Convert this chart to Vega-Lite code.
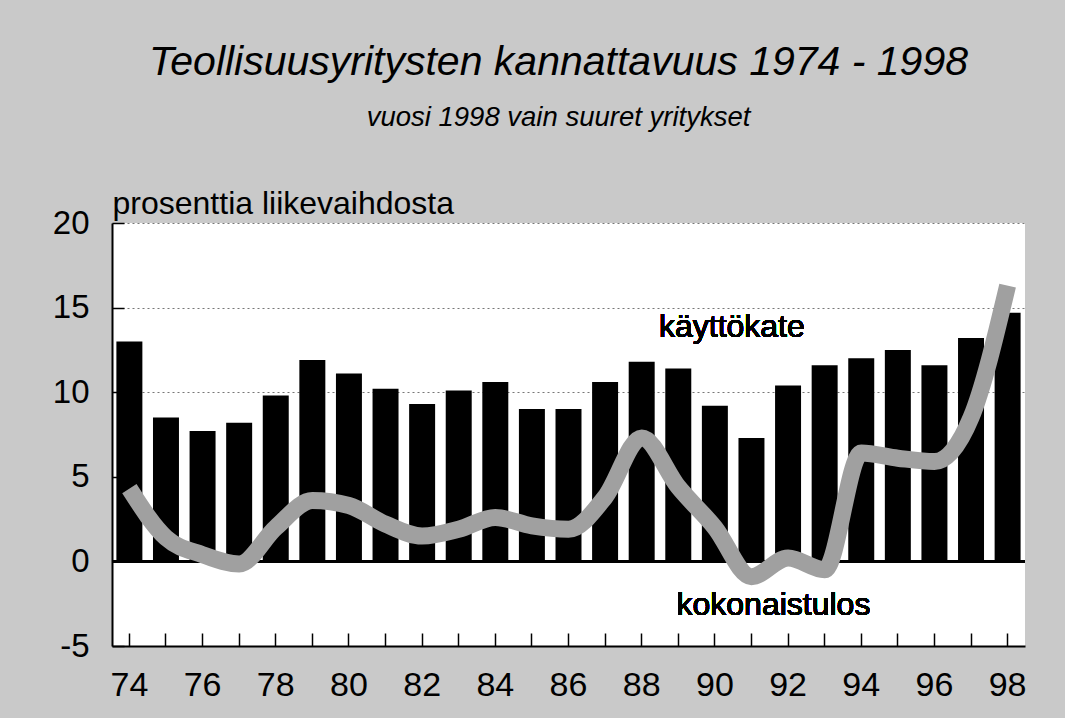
{
  "$schema": "https://vega.github.io/schema/vega-lite/v6.json",
  "width": 913,
  "height": 423,
  "autosize": "none",
  "padding": {"left": 112, "top": 223, "right": 40, "bottom": 72},
  "background": "#c9c9c9",
  "title": {
    "text": "Teollisuusyritysten kannattavuus 1974 - 1998",
    "subtitle": "vuosi 1998 vain suuret yritykset",
    "font": "Liberation Sans",
    "fontStyle": "italic",
    "fontWeight": "normal",
    "fontSize": 41,
    "color": "black",
    "subtitleFont": "Liberation Sans",
    "subtitleFontStyle": "italic",
    "subtitleFontSize": 27.5,
    "subtitleColor": "black",
    "subtitlePadding": 20,
    "anchor": "middle",
    "frame": "group",
    "dx": -10,
    "offset": 55
  },
  "data": {
    "values": [
      {"year": 74, "kate": 13.0, "tulos": 4.3},
      {"year": 75, "kate": 8.5, "tulos": 1.4},
      {"year": 76, "kate": 7.7, "tulos": 0.4},
      {"year": 77, "kate": 8.2, "tulos": -0.15},
      {"year": 78, "kate": 9.8, "tulos": 2.0},
      {"year": 79, "kate": 11.9, "tulos": 3.6},
      {"year": 80, "kate": 11.1, "tulos": 3.3},
      {"year": 81, "kate": 10.2, "tulos": 2.2},
      {"year": 82, "kate": 9.3, "tulos": 1.5},
      {"year": 83, "kate": 10.1, "tulos": 1.9},
      {"year": 84, "kate": 10.6, "tulos": 2.6},
      {"year": 85, "kate": 9.0, "tulos": 2.1},
      {"year": 86, "kate": 9.0, "tulos": 1.9},
      {"year": 87, "kate": 10.6, "tulos": 3.8},
      {"year": 88, "kate": 11.8, "tulos": 7.3},
      {"year": 89, "kate": 11.4, "tulos": 4.4},
      {"year": 90, "kate": 9.2, "tulos": 2.0},
      {"year": 91, "kate": 7.3, "tulos": -0.9},
      {"year": 92, "kate": 10.4, "tulos": 0.2},
      {"year": 93, "kate": 11.6, "tulos": -0.5},
      {"year": 94, "kate": 12.0, "tulos": 6.4},
      {"year": 95, "kate": 12.5, "tulos": 6.1},
      {"year": 96, "kate": 11.6, "tulos": 5.9},
      {"year": 97, "kate": 13.2, "tulos": 8.5},
      {"year": 98, "kate": 14.7, "tulos": 16.3}
    ]
  },
  "encoding": {
    "x": {
      "field": "year",
      "type": "ordinal",
      "scale": {"paddingInner": 0.29, "paddingOuter": 0.12},
      "axis": {
        "title": null,
        "labelAngle": 0,
        "labelExpr": "datum.value % 2 == 0 ? datum.label : ''",
        "labelFont": "Liberation Sans",
        "labelFontSize": 34,
        "labelColor": "black",
        "labelPadding": 35,
        "domainColor": "black",
        "domainWidth": 2,
        "tickColor": "black",
        "tickWidth": 1.5,
        "tickSize": -13,
        "grid": false
      }
    },
    "y": {
      "field": "kate",
      "type": "quantitative",
      "scale": {"domain": [-5, 20], "nice": false},
      "axis": {
        "title": "prosenttia liikevaihdosta",
        "titleAngle": 0,
        "titleAlign": "left",
        "titleBaseline": "alphabetic",
        "titleX": 0,
        "titleY": -10,
        "titleFont": "Liberation Sans",
        "titleFontSize": 32,
        "titleFontWeight": "normal",
        "titleColor": "black",
        "values": [-5, 0, 5, 10, 15, 20],
        "labelExpr": "'' + datum.value",
        "labelFont": "Liberation Sans",
        "labelFontSize": 33,
        "labelColor": "black",
        "labelPadding": 35,
        "domainColor": "black",
        "domainWidth": 2,
        "tickColor": "black",
        "tickWidth": 1.5,
        "tickSize": -12,
        "grid": true,
        "gridColor": "#777777",
        "gridDash": [2, 3],
        "gridWidth": 1,
        "gridOpacity": {"condition": {"test": "datum.value >= 10", "value": 1}, "value": 0}
      }
    }
  },
  "layer": [
    {
      "mark": {"type": "bar", "color": "black"}
    },
    {
      "mark": {"type": "rule", "color": "black", "strokeWidth": 2},
      "encoding": {"x": null, "y": {"datum": 0}}
    },
    {
      "mark": {"type": "line", "interpolate": "monotone", "strokeWidth": 17, "color": "#a0a0a0", "strokeCap": "butt"},
      "encoding": {"y": {"field": "tulos", "type": "quantitative", "title": "prosenttia liikevaihdosta"}}
    },
    {
      "mark": {"type": "text", "font": "Liberation Sans", "fontSize": 32, "align": "center", "baseline": "alphabetic", "dx": 17, "color": "black"},
      "encoding": {"x": {"datum": 90}, "y": {"datum": 13.25}, "text": {"value": "käyttökate"}}
    },
    {
      "mark": {"type": "text", "font": "Liberation Sans", "fontSize": 32, "align": "center", "baseline": "alphabetic", "dx": 22, "color": "black"},
      "encoding": {"x": {"datum": 91}, "y": {"datum": -3.19}, "text": {"value": "kokonaistulos"}}
    }
  ],
  "config": {
    "view": {"fill": "white", "stroke": null}
  }
}
